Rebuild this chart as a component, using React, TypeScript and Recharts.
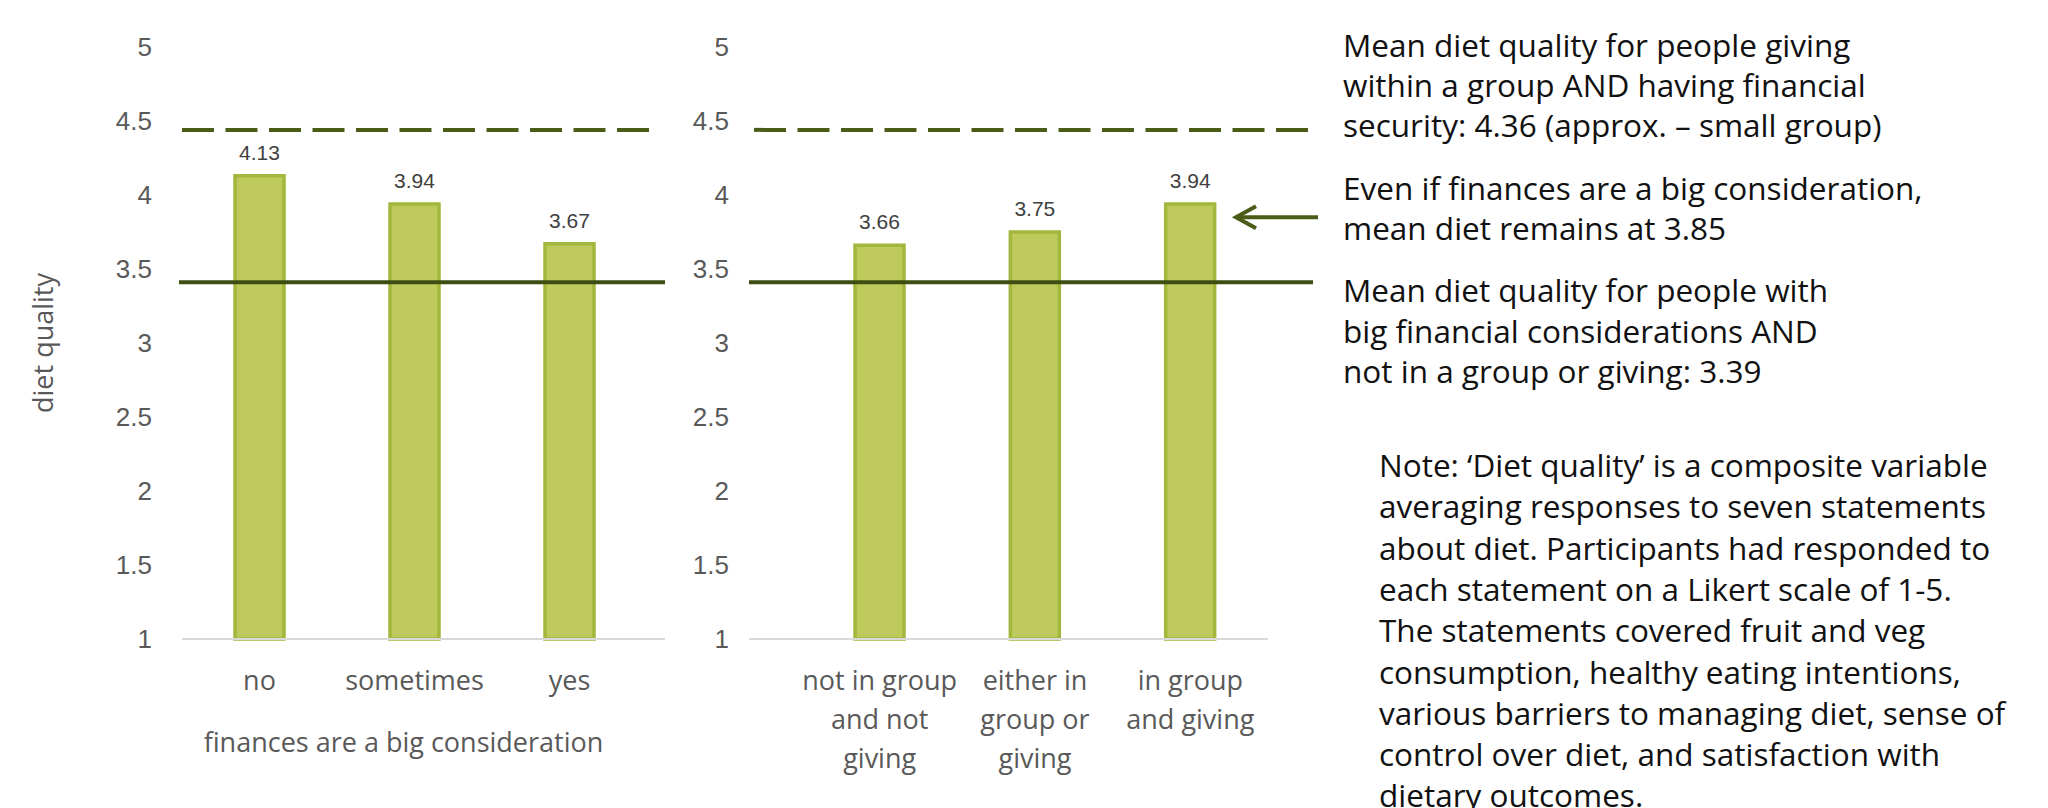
import React from "react";
import { BarChart, Bar, XAxis, YAxis, ReferenceLine, LabelList, Label } from "recharts";

// left panel: finances are a big consideration
const financeCategories = ["no", "sometimes", "yes"];
const financeMeans = [4.13, 3.94, 3.67];

// right panel: group membership / giving
const groupCategories = ["not in group\nand not\ngiving", "either in\ngroup or\ngiving", "in group\nand giving"];
const groupMeans = [3.66, 3.75, 3.94];

const yTicks = [1, 1.5, 2, 2.5, 3, 3.5, 4, 4.5, 5];

// levels of the drawn guide lines
const secureGroupLevel = 4.44;
const lowGroupLevel = 3.41;
const arrowLevel = 3.85;

const noteTop = [
  "Mean diet quality for people giving",
  "within a group AND having financial",
  "security: 4.36 (approx. \u2013 small group)",
];
const noteArrow = ["Even if finances are a big consideration,", "mean diet remains at 3.85"];
const noteLow = [
  "Mean diet quality for people with",
  "big financial considerations AND",
  "not in a group or giving: 3.39",
];
const noteDefinition = [
  "Note: \u2018Diet quality\u2019 is a composite variable",
  "averaging responses to seven statements",
  "about diet. Participants had responded to",
  "each statement on a Likert scale of 1-5.",
  "The statements covered fruit and veg",
  "consumption, healthy eating intentions,",
  "various barriers to managing  diet, sense of",
  "control over diet, and satisfaction with",
  "dietary outcomes.",
];

const financeData = financeCategories.map((c, i) => ({ category: c, mean: financeMeans[i] }));
const groupData = groupCategories.map((c, i) => ({ category: c, mean: groupMeans[i] }));

const BAR_FILL = "#BECB5C";
const BAR_EDGE = "#A2B73B";
const LINE_DARK = "#4B5C17";
const LINE_SOLID = "#3E4E12";
const GREY_TEXT = "#595959";

const CategoryTick = (props: any) => {
  const { x, y, payload } = props;
  const lines = String(payload.value).split("\n");
  return (
    <text x={x} y={y} textAnchor="middle" fontFamily="Open Sans" fontSize={27} fill={GREY_TEXT}>
      {lines.map((l, i) => (
        <tspan key={i} x={x} dy={i === 0 ? 51 : 39}>
          {l}
        </tspan>
      ))}
    </text>
  );
};

const guide = (dx1: number, dx2: number, width: number, color: string, dash?: string) => (p: any) => (
  <line
    x1={p.x1 + dx1}
    x2={p.x2 + dx2}
    y1={p.y1}
    y2={p.y2}
    stroke={color}
    strokeWidth={width}
    strokeDasharray={dash}
  />
);

const arrowShape = (p: any) => {
  const y = p.y1;
  const tip = p.x2 - 32;
  const tail = p.x2 + 50;
  return (
    <g>
      <line x1={tip + 1} y1={y} x2={tail} y2={y} stroke={LINE_DARK} strokeWidth={4} />
      <polyline
        points={`${tip + 20},${y - 11} ${tip},${y} ${tip + 20},${y + 11}`}
        fill="none"
        stroke={LINE_DARK}
        strokeWidth={4}
      />
    </g>
  );
};

const yTickStyle = { fontSize: 26, fill: GREY_TEXT, fontFamily: "Liberation Sans" };
const valueLabelStyle = { fontSize: 21, fill: "#404040", fontFamily: "Liberation Sans" };

function NoteBlock({ lines, x, y, step }: { lines: string[]; x: number; y: number; step: number }) {
  return (
    <text x={x} fontFamily="Open Sans" fontSize={31.5} fill="#111">
      {lines.map((l, i) => (
        <tspan key={i} x={x} y={y + i * step}>
          {l}
        </tspan>
      ))}
    </text>
  );
}

export default function App() {
  return (
    <div
      style={{
        position: "absolute",
        left: 0,
        top: 0,
        width: 2048,
        height: 808,
        background: "#fff",
        overflow: "hidden",
      }}
    >
      <div style={{ position: "absolute", left: 0, top: 0 }}>
        <BarChart width={700} height={808} data={financeData} margin={{ top: 47, right: 35, bottom: 0, left: 0 }}>
          <XAxis
            dataKey="category"
            height={169}
            tickLine={false}
            tickSize={0}
            tickMargin={0}
            axisLine={{ stroke: "#D9D9D9", strokeWidth: 2 }}
            padding={{ left: 0, right: 18 }}
            tick={<CategoryTick />}
            interval={0}
          >
            <Label
              value="finances are a big consideration"
              position="insideBottom"
              offset={56}
              dx={-20}
              fontFamily="Open Sans"
              fontSize={27}
              fill={GREY_TEXT}
            />
          </XAxis>
          <YAxis
            type="number"
            domain={[1, 5]}
            ticks={yTicks}
            interval={0}
            width={182}
            axisLine={false}
            tickLine={false}
            tickSize={0}
            tickMargin={30}
            tick={yTickStyle}
          >
            <Label
              value="diet quality"
              angle={-90}
              position="insideLeft"
              offset={43}
              style={{ textAnchor: "middle" }}
              fontFamily="Open Sans"
              fontSize={27}
              fill={GREY_TEXT}
            />
          </YAxis>
          <Bar dataKey="mean" fill={BAR_FILL} stroke={BAR_EDGE} strokeWidth={3.5} barSize={49} isAnimationActive={false}>
            <LabelList dataKey="mean" position="top" offset={16} style={valueLabelStyle} />
          </Bar>
          <ReferenceLine y={secureGroupLevel} shape={guide(0, -11, 4, LINE_DARK, "32 11.5")} />
          <ReferenceLine y={lowGroupLevel} shape={guide(-3, 0, 4, LINE_SOLID)} />
        </BarChart>
      </div>

      <div style={{ position: "absolute", left: 680, top: 0 }}>
        <BarChart width={700} height={808} data={groupData} margin={{ top: 47, right: 112, bottom: 0, left: 0 }}>
          <XAxis
            dataKey="category"
            height={169}
            tickLine={false}
            tickSize={0}
            tickMargin={0}
            axisLine={{ stroke: "#D9D9D9", strokeWidth: 2 }}
            padding={{ left: 53, right: 0 }}
            tick={<CategoryTick />}
            interval={0}
          />
          <YAxis
            type="number"
            domain={[1, 5]}
            ticks={yTicks}
            interval={0}
            width={69}
            axisLine={false}
            tickLine={false}
            tickSize={0}
            tickMargin={20}
            tick={yTickStyle}
          />
          <Bar dataKey="mean" fill={BAR_FILL} stroke={BAR_EDGE} strokeWidth={3.5} barSize={49} isAnimationActive={false}>
            <LabelList dataKey="mean" position="top" offset={16} style={valueLabelStyle} />
          </Bar>
          <ReferenceLine y={secureGroupLevel} shape={guide(5, 46, 4, LINE_DARK, "32 11.5")} />
          <ReferenceLine y={lowGroupLevel} shape={guide(0, 45, 4, LINE_SOLID)} />
          <ReferenceLine y={arrowLevel} shape={arrowShape} />
        </BarChart>
      </div>

      <svg
        width={2048}
        height={808}
        style={{ position: "absolute", left: 0, top: 0, pointerEvents: "none" }}
      >
        <NoteBlock lines={noteTop} x={1343} y={57} step={40} />
        <NoteBlock lines={noteArrow} x={1343} y={200} step={40} />
        <NoteBlock lines={noteLow} x={1343} y={302} step={40.5} />
        <NoteBlock lines={noteDefinition} x={1379} y={477} step={41.3} />
      </svg>
    </div>
  );
}
